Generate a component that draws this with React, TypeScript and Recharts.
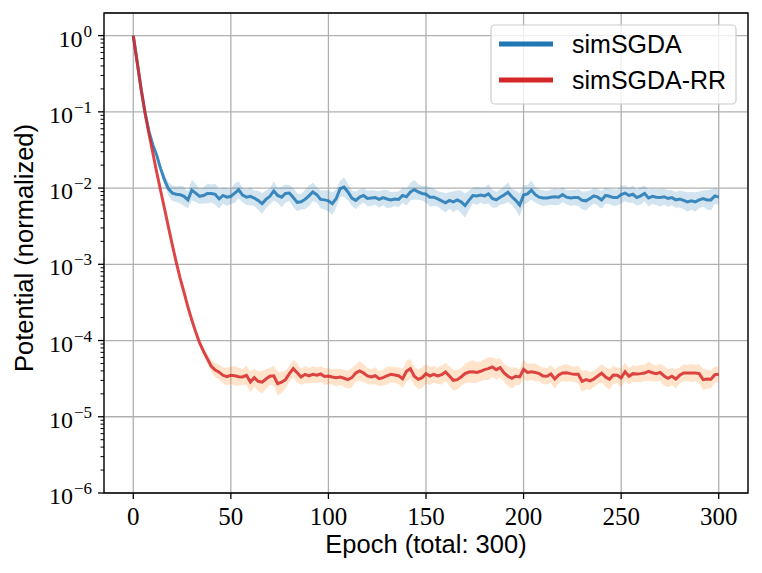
import React from "react";
import {
  ComposedChart, Line, Area, XAxis, YAxis, CartesianGrid, ReferenceArea,
} from "recharts";

// sampled every 2 epochs
const epochs = [
  0, 2, 4, 6, 8, 10, 12, 14, 16, 18,
  20, 22, 24, 26, 28, 30, 32, 34, 36, 38,
  40, 42, 44, 46, 48, 50, 52, 54, 56, 58,
  60, 62, 64, 66, 68, 70, 72, 74, 76, 78,
  80, 82, 84, 86, 88, 90, 92, 94, 96, 98,
  100, 102, 104, 106, 108, 110, 112, 114, 116, 118,
  120, 122, 124, 126, 128, 130, 132, 134, 136, 138,
  140, 142, 144, 146, 148, 150, 152, 154, 156, 158,
  160, 162, 164, 166, 168, 170, 172, 174, 176, 178,
  180, 182, 184, 186, 188, 190, 192, 194, 196, 198,
  200, 202, 204, 206, 208, 210, 212, 214, 216, 218,
  220, 222, 224, 226, 228, 230, 232, 234, 236, 238,
  240, 242, 244, 246, 248, 250, 252, 254, 256, 258,
  260, 262, 264, 266, 268, 270, 272, 274, 276, 278,
  280, 282, 284, 286, 288, 290, 292, 294, 296, 298,
  300,
];

const simSGDA = [
  1.0, 0.45, 0.2, 0.098, 0.056, 0.037, 0.027, 0.018, 0.0128, 0.0098,
  0.0086, 0.0083, 0.0082, 0.0078, 0.007, 0.0094, 0.0086, 0.0078, 0.008, 0.0085,
  0.0085, 0.0083, 0.0072, 0.008, 0.0076, 0.0078, 0.0086, 0.0095, 0.0081, 0.0076,
  0.0078, 0.0074, 0.0069, 0.00625, 0.0071, 0.0078, 0.0092, 0.008, 0.0076, 0.0085,
  0.0086, 0.0075, 0.0065, 0.0066, 0.0071, 0.0079, 0.0089, 0.0082, 0.0071, 0.007,
  0.0068, 0.00625, 0.0073, 0.0098, 0.0103, 0.0089, 0.0074, 0.0069, 0.0076, 0.008,
  0.0073, 0.0074, 0.0075, 0.0071, 0.0075, 0.0072, 0.007, 0.0072, 0.0071, 0.008,
  0.0077, 0.0089, 0.0095, 0.0089, 0.0085, 0.0083, 0.0076, 0.0076, 0.0072, 0.0068,
  0.0064, 0.0069, 0.0066, 0.007, 0.0066, 0.0059, 0.0069, 0.008, 0.0079, 0.0081,
  0.0079, 0.0084, 0.0073, 0.007, 0.0076, 0.0081, 0.0088, 0.0077, 0.0069, 0.006,
  0.0081, 0.0084, 0.0094, 0.0082, 0.0076, 0.0074, 0.0074, 0.0076, 0.0077, 0.0076,
  0.0082, 0.0076, 0.0074, 0.0075, 0.0075, 0.0069, 0.0068, 0.0073, 0.0079, 0.0076,
  0.007, 0.008, 0.0078, 0.0075, 0.0075, 0.0082, 0.0086, 0.008, 0.0083, 0.0075,
  0.0079, 0.0085, 0.0074, 0.0078, 0.0076, 0.0075, 0.0077, 0.0073, 0.0075, 0.007,
  0.0072, 0.0069, 0.0066, 0.0068, 0.0066, 0.007, 0.0073, 0.007, 0.007, 0.0079,
  0.0076,
];

// multiplicative half-width of the shaded band (mean / s .. mean * s)
const simSGDASpread = [
  1.0, 1.02, 1.03, 1.04, 1.05, 1.06, 1.08, 1.12, 1.18, 1.22,
  1.27, 1.26, 1.31, 1.34, 1.29, 1.37, 1.31, 1.26, 1.27, 1.34,
  1.31, 1.37, 1.34, 1.27, 1.31, 1.26, 1.34, 1.29, 1.24, 1.27,
  1.31, 1.26, 1.34, 1.37, 1.31, 1.27, 1.34, 1.26, 1.37, 1.31,
  1.27, 1.34, 1.31, 1.26, 1.34, 1.37, 1.32, 1.27, 1.31, 1.34,
  1.37, 1.41, 1.31, 1.27, 1.34, 1.29, 1.26, 1.31, 1.27, 1.24,
  1.26, 1.27, 1.24, 1.29, 1.26, 1.31, 1.27, 1.24, 1.27, 1.26,
  1.29, 1.31, 1.34, 1.27, 1.24, 1.29, 1.34, 1.31, 1.26, 1.31,
  1.34, 1.29, 1.37, 1.34, 1.41, 1.44, 1.34, 1.27, 1.31, 1.26,
  1.29, 1.34, 1.31, 1.27, 1.26, 1.31, 1.34, 1.27, 1.34, 1.43,
  1.34, 1.31, 1.34, 1.27, 1.26, 1.27, 1.24, 1.26, 1.29, 1.27,
  1.26, 1.24, 1.27, 1.26, 1.29, 1.31, 1.34, 1.27, 1.26, 1.29,
  1.31, 1.27, 1.26, 1.29, 1.27, 1.31, 1.27, 1.26, 1.29, 1.27,
  1.31, 1.27, 1.29, 1.26, 1.27, 1.31, 1.27, 1.29, 1.26, 1.27,
  1.29, 1.31, 1.34, 1.31, 1.34, 1.29, 1.27, 1.34, 1.37, 1.27,
  1.26,
];

const simSGDARR = [
  1.0, 0.447, 0.2, 0.098, 0.052, 0.029, 0.0162, 0.0093, 0.0054, 0.0031,
  0.0018, 0.00107, 0.00066, 0.00043, 0.000275, 0.000186, 0.000129, 9.3e-5, 7.2e-5, 5.75e-5,
  4.6e-5, 4.1e-5, 3.85e-5, 3.5e-5, 3.35e-5, 3.5e-5, 3.45e-5, 3.35e-5, 3.33e-5, 3.5e-5,
  2.86e-5, 3.26e-5, 2.92e-5, 2.84e-5, 3.13e-5, 3.4e-5, 3.45e-5, 2.72e-5, 2.84e-5, 3.07e-5,
  3.68e-5, 4.28e-5, 3.78e-5, 3.33e-5, 3.6e-5, 3.43e-5, 3.6e-5, 3.5e-5, 3.64e-5, 3.37e-5,
  3.43e-5, 3.33e-5, 3.26e-5, 3.33e-5, 3.2e-5, 3.07e-5, 3.26e-5, 3.75e-5, 4.0e-5, 3.75e-5,
  3.43e-5, 3.33e-5, 3.45e-5, 3.16e-5, 3.26e-5, 3.45e-5, 3.6e-5, 3.53e-5, 3.45e-5, 3.16e-5,
  3.95e-5, 4.28e-5, 3.4e-5, 3.1e-5, 3.26e-5, 3.68e-5, 3.43e-5, 3.6e-5, 3.43e-5, 3.56e-5,
  3.86e-5, 3.43e-5, 3.01e-5, 3.07e-5, 3.33e-5, 3.68e-5, 3.86e-5, 3.9e-5, 3.82e-5, 3.95e-5,
  4.15e-5, 4.28e-5, 4.5e-5, 4.15e-5, 4.4e-5, 3.75e-5, 3.4e-5, 3.2e-5, 3.4e-5, 3.33e-5,
  4.2e-5, 3.82e-5, 3.9e-5, 3.82e-5, 3.68e-5, 3.43e-5, 3.4e-5, 3.64e-5, 3.13e-5, 3.53e-5,
  3.75e-5, 3.78e-5, 3.68e-5, 3.6e-5, 3.6e-5, 2.92e-5, 3.07e-5, 2.95e-5, 3.13e-5, 3.43e-5,
  3.72e-5, 3.33e-5, 3.1e-5, 3.53e-5, 3.5e-5, 3.23e-5, 3.9e-5, 3.4e-5, 3.68e-5, 3.64e-5,
  3.68e-5, 3.75e-5, 3.95e-5, 3.78e-5, 3.68e-5, 3.82e-5, 3.43e-5, 3.2e-5, 3.4e-5, 3.13e-5,
  3.5e-5, 3.75e-5, 3.75e-5, 3.75e-5, 3.75e-5, 3.68e-5, 3.07e-5, 3.13e-5, 3.1e-5, 3.56e-5,
  3.6e-5,
];

const simSGDARRSpread = [
  1.0, 1.01, 1.01, 1.02, 1.02, 1.02, 1.03, 1.03, 1.03, 1.03,
  1.04, 1.04, 1.04, 1.05, 1.05, 1.06, 1.07, 1.08, 1.12, 1.16,
  1.2, 1.24, 1.26, 1.27, 1.31, 1.29, 1.34, 1.31, 1.27, 1.34,
  1.37, 1.31, 1.34, 1.41, 1.34, 1.29, 1.34, 1.44, 1.37, 1.31,
  1.27, 1.31, 1.34, 1.27, 1.31, 1.26, 1.29, 1.27, 1.26, 1.29,
  1.27, 1.26, 1.31, 1.27, 1.29, 1.31, 1.34, 1.29, 1.34, 1.31,
  1.27, 1.26, 1.29, 1.26, 1.27, 1.31, 1.27, 1.26, 1.29, 1.34,
  1.37, 1.34, 1.31, 1.34, 1.37, 1.34, 1.31, 1.29, 1.27, 1.34,
  1.31, 1.34, 1.37, 1.34, 1.31, 1.34, 1.37, 1.41, 1.37, 1.34,
  1.37, 1.41, 1.34, 1.37, 1.34, 1.31, 1.34, 1.37, 1.31, 1.27,
  1.34, 1.31, 1.27, 1.31, 1.26, 1.29, 1.27, 1.31, 1.34, 1.29,
  1.27, 1.31, 1.27, 1.26, 1.31, 1.37, 1.34, 1.31, 1.27, 1.29,
  1.31, 1.34, 1.37, 1.31, 1.27, 1.34, 1.31, 1.27, 1.29, 1.27,
  1.31, 1.27, 1.34, 1.29, 1.27, 1.31, 1.34, 1.31, 1.29, 1.34,
  1.27, 1.29, 1.27, 1.31, 1.27, 1.34, 1.37, 1.34, 1.31, 1.27,
  1.26,
];

const xTicks = [0, 50, 100, 150, 200, 250, 300];
const yMajor = [1e-6, 1e-5, 1e-4, 1e-3, 1e-2, 1e-1, 1];
const yExponents = ["\u22126", "\u22125", "\u22124", "\u22123", "\u22122", "\u22121", "0"];
const yMinorSteps = [2, 3, 4, 5, 6, 7, 8, 9];
const X_DOMAIN: [number, number] = [-15, 315];
const Y_DOMAIN: [number, number] = [1e-6, 1.98];

const BLUE = "#1f77b4";
const RED = "#d62728";
const ORANGE = "#ff7f0e";
const GRID = "#b0b0b0";
const SERIF = "'Liberation Serif', 'DejaVu Serif', serif";
const SANS = "'Liberation Sans', Arial, Helvetica, sans-serif";

const yTicks = yMajor
  .flatMap((v) => [v, ...yMinorSteps.map((m) => m * v)])
  .filter((v) => v <= Y_DOMAIN[1]);

const data = epochs.map((epoch, i) => ({
  epoch,
  blue: simSGDA[i],
  blueBand: [simSGDA[i] / simSGDASpread[i], simSGDA[i] * simSGDASpread[i]],
  red: simSGDARR[i],
  redBand: [simSGDARR[i] / simSGDARRSpread[i], simSGDARR[i] * simSGDARRSpread[i]],
}));

const majorIndex = (v: number) =>
  yMajor.findIndex((m) => Math.abs(v / m - 1) < 1e-6);

const YTick = ({ x, y, payload }: any) => {
  const idx = majorIndex(payload.value);
  const major = idx >= 0;
  return (
    <g>
      <line
        x1={x - (major ? 6 : 3.5)} x2={x} y1={y} y2={y}
        stroke="#000" strokeWidth={major ? 1.3 : 1}
      />
      {major && (
        <text x={x - 12} y={y + 11} textAnchor="end" fontFamily={SERIF} fontSize={24} fill="#000">
          10<tspan dx={1} dy={-10} fontSize={17}>{yExponents[idx]}</tspan>
        </text>
      )}
    </g>
  );
};

const XTick = ({ x, y, payload }: any) => (
  <g>
    <line x1={x} x2={x} y1={y} y2={y + 6} stroke="#000" strokeWidth={1.3} />
    <text x={x} y={y + 32} textAnchor="middle" fontFamily={SERIF} fontSize={25} fill="#000">
      {payload.value}
    </text>
  </g>
);

export default function App() {
  return (
    <div style={{ position: "absolute", left: 0, top: 0, width: 762, height: 573, background: "#fff" }}>
      <ComposedChart
        width={762}
        height={573}
        data={data}
        margin={{ top: 13, right: 14, left: 14, bottom: 30 }}
      >
        <CartesianGrid stroke={GRID} strokeWidth={1.3} yAxisId="grid" />
        <XAxis
          dataKey="epoch"
          type="number"
          domain={X_DOMAIN}
          allowDataOverflow
          ticks={xTicks}
          interval={0}
          height={50}
          tickSize={0}
          tickMargin={0}
          axisLine={false}
          tickLine={false}
          tick={<XTick />}
        />
        <YAxis
          type="number"
          scale="log"
          domain={Y_DOMAIN}
          allowDataOverflow
          ticks={yTicks}
          interval={0}
          width={90}
          tickSize={0}
          tickMargin={0}
          axisLine={false}
          tickLine={false}
          tick={<YTick />}
        />
        {/* major-only axis that feeds the grid lines */}
        <YAxis
          yAxisId="grid"
          type="number"
          scale="log"
          domain={Y_DOMAIN}
          allowDataOverflow
          ticks={yMajor}
          interval={0}
          hide
        />
        <Area
          dataKey="blueBand"
          type="linear"
          stroke="none"
          fill={BLUE}
          fillOpacity={0.2}
          isAnimationActive={false}
          activeDot={false}
        />
        <Line
          dataKey="blue"
          type="linear"
          stroke={BLUE}
          strokeOpacity={0.85}
          strokeWidth={3}
          dot={false}
          activeDot={false}
          isAnimationActive={false}
        />
        <Area
          dataKey="redBand"
          type="linear"
          stroke="none"
          fill={ORANGE}
          fillOpacity={0.22}
          isAnimationActive={false}
          activeDot={false}
        />
        <Line
          dataKey="red"
          type="linear"
          stroke={RED}
          strokeOpacity={0.85}
          strokeWidth={3}
          dot={false}
          activeDot={false}
          isAnimationActive={false}
        />
        <ReferenceArea
          x1={X_DOMAIN[0]}
          x2={X_DOMAIN[1]}
          y1={Y_DOMAIN[0]}
          y2={Y_DOMAIN[1]}
          fill="none"
          fillOpacity={0}
          stroke="#000"
          strokeWidth={1.3}
          ifOverflow="visible"
        />
      </ComposedChart>
      <svg
        width={762}
        height={573}
        style={{ position: "absolute", left: 0, top: 0, pointerEvents: "none" }}
      >
        <text
          transform="rotate(-90)"
          x={-248}
          y={33}
          textAnchor="middle"
          fontFamily={SANS}
          fontSize={25.5}
          fill="#000"
        >
          Potential (normalized)
        </text>
        <text x={426} y={553} textAnchor="middle" fontFamily={SANS} fontSize={25.5} fill="#000">
          Epoch (total: 300)
        </text>
        <rect x={491} y={25} width={245} height={79} rx={4} fill="#fff" fillOpacity={0.8} stroke="#cccccc" strokeWidth={1.2} />
        <line x1={499} x2={553} y1={44} y2={44} stroke={BLUE} strokeWidth={5} />
        <text x={572} y={53} fontFamily={SANS} fontSize={25} fill="#000">simSGDA</text>
        <line x1={499} x2={553} y1={80} y2={80} stroke={RED} strokeWidth={5} />
        <text x={572} y={89} fontFamily={SANS} fontSize={25} fill="#000">simSGDA-RR</text>
      </svg>
    </div>
  );
}
